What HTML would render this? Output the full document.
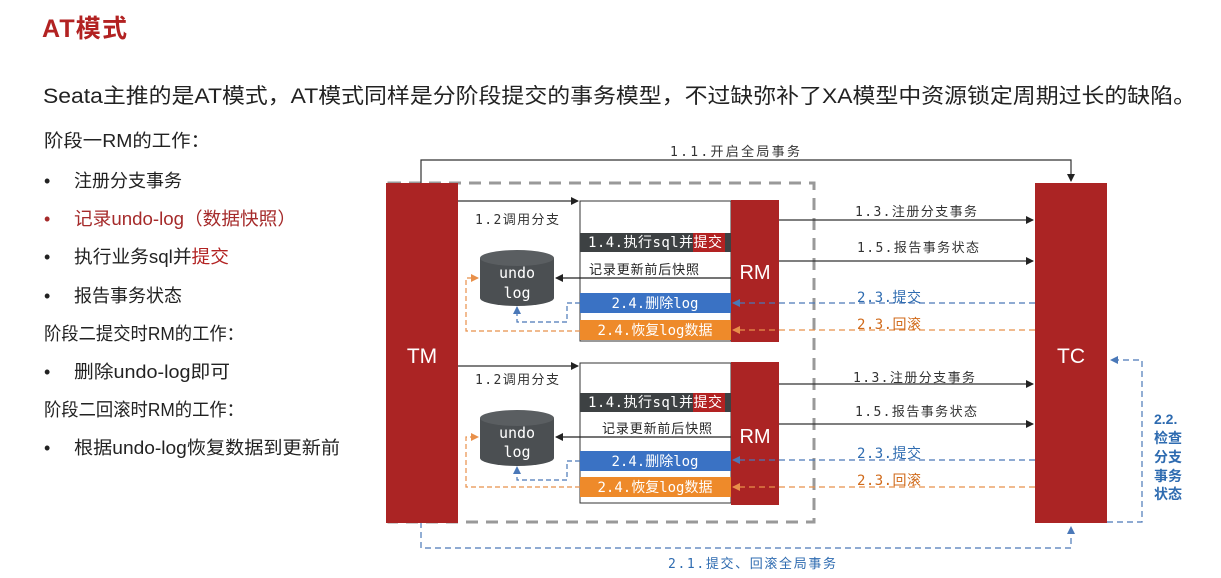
<!DOCTYPE html>
<html><head><meta charset="utf-8"><style>
html,body{margin:0;padding:0;background:#fff;}
svg{display:block;}
text{font-family:"Liberation Sans","Noto Sans CJK SC",sans-serif;}
.m{font-family:"DejaVu Sans Mono","Liberation Mono","Noto Sans CJK SC",monospace;}
</style></head><body>
<svg width="1221" height="578" viewBox="0 0 1221 578" xmlns="http://www.w3.org/2000/svg">
<defs>
<marker id="ak" markerWidth="8" markerHeight="8" refX="7" refY="4" orient="auto" markerUnits="userSpaceOnUse"><path d="M0,0L8,4L0,8z" fill="#222"/></marker>
<marker id="ab" markerWidth="8" markerHeight="8" refX="7" refY="4" orient="auto" markerUnits="userSpaceOnUse"><path d="M0,0L8,4L0,8z" fill="#4a78b8"/></marker>
<marker id="ao" markerWidth="8" markerHeight="8" refX="7" refY="4" orient="auto" markerUnits="userSpaceOnUse"><path d="M0,0L8,4L0,8z" fill="#e8904a"/></marker>
</defs>
<text x="42" y="37" font-size="25" font-weight="bold" fill="#b22222" textLength="85">AT模式</text>
<text x="43" y="103" font-size="21" fill="#222" textLength="1153" lengthAdjust="spacingAndGlyphs">Seata主推的是AT模式，AT模式同样是分阶段提交的事务模型，不过缺弥补了XA模型中资源锁定周期过长的缺陷。</text>
<g font-size="18" fill="#222">
<text x="44" y="147" textLength="166" lengthAdjust="spacingAndGlyphs">阶段一RM的工作：</text>
<text x="44" y="187">•</text><text x="74" y="187">注册分支事务</text>
<text x="44" y="225" fill="#a52a2a">•</text><text x="74" y="225" fill="#a52a2a" textLength="222" lengthAdjust="spacingAndGlyphs">记录undo-log（数据快照）</text>
<text x="44" y="263">•</text><text x="74" y="263" textLength="155" lengthAdjust="spacingAndGlyphs">执行业务sql并<tspan fill="#b22222">提交</tspan></text>
<text x="44" y="302">•</text><text x="74" y="302">报告事务状态</text>
<text x="44" y="340" textLength="200" lengthAdjust="spacingAndGlyphs">阶段二提交时RM的工作：</text>
<text x="44" y="378">•</text><text x="74" y="378" textLength="156" lengthAdjust="spacingAndGlyphs">删除undo-log即可</text>
<text x="44" y="416" textLength="200" lengthAdjust="spacingAndGlyphs">阶段二回滚时RM的工作：</text>
<text x="44" y="454">•</text><text x="74" y="454" textLength="266" lengthAdjust="spacingAndGlyphs">根据undo-log恢复数据到更新前</text>
</g>
<rect x="389" y="183" width="425" height="339" fill="none" stroke="#999" stroke-width="3" stroke-dasharray="12,8"/>
<path d="M421,183V160H1071V181" fill="none" stroke="#333" stroke-width="1.2" marker-end="url(#ak)"/>
<text x="670" y="156" font-size="13" fill="#333" class="m" textLength="130">1.1.开启全局事务</text>
<path d="M421,522V548H1071V527" fill="none" stroke="#4a78b8" stroke-width="1.2" stroke-dasharray="6,4" marker-end="url(#ab)"/>
<text x="668" y="568" font-size="13" fill="#2e6bb0" class="m" textLength="168">2.1.提交、回滚全局事务</text>
<path d="M1107,522H1142V360H1111" fill="none" stroke="#4a78b8" stroke-width="1.2" stroke-dasharray="6,4" marker-end="url(#ab)"/>
<g font-size="14" fill="#2e6bb0" font-weight="bold"><text x="1154" y="424">2.2.</text><text x="1154" y="443">检查</text><text x="1154" y="462">分支</text><text x="1154" y="481">事务</text><text x="1154" y="499">状态</text></g>
<rect x="386" y="183" width="72" height="340" fill="#ab2424"/>
<text x="422" y="363" font-size="21" fill="#fff" text-anchor="middle">TM</text>
<rect x="1035" y="183" width="72" height="340" fill="#ab2424"/>
<text x="1071" y="363" font-size="21" fill="#fff" text-anchor="middle">TC</text>

<g>
<path d="M458,201H578" stroke="#333" stroke-width="1.2" marker-end="url(#ak)"/>
<text x="475" y="224" font-size="13" fill="#333" class="m" textLength="84">1.2调用分支</text>
<rect x="580" y="201" width="151" height="140" fill="#fff" stroke="#333" stroke-width="1"/>
<rect x="580" y="233" width="151" height="19" fill="#3d4143"/>
<rect x="693" y="233" width="32" height="19" fill="#b22222"/>
<text x="588" y="247" font-size="14" fill="#fff" class="m" textLength="134">1.4.执行sql并提交</text>
<text x="589" y="274" font-size="13" fill="#222" textLength="110">记录更新前后快照</text>
<path d="M731,278H556" stroke="#222" stroke-width="1.2" marker-end="url(#ak)"/>
<rect x="580" y="293" width="151" height="20" fill="#3a72c4"/>
<text x="655" y="308" font-size="14" fill="#fff" text-anchor="middle" class="m">2.4.删除log</text>
<rect x="580" y="320" width="151" height="20" fill="#ee8a2a"/>
<text x="655" y="335" font-size="14" fill="#fff" text-anchor="middle" class="m">2.4.恢复log数据</text>
<path d="M480,258V298A37,8 0 0 0 554,298V258" fill="#4b4f52"/>
<ellipse cx="517" cy="258" rx="37" ry="8" fill="#5a5e61"/>
<text x="517" y="278" font-size="15" fill="#fff" text-anchor="middle" class="m">undo</text>
<text x="517" y="298" font-size="15" fill="#fff" text-anchor="middle" class="m">log</text>
<path d="M580,303H567V322H517V307" fill="none" stroke="#4a78b8" stroke-width="1.2" stroke-dasharray="5,3" marker-end="url(#ab)"/>
<path d="M580,331H466V278H478" fill="none" stroke="#e8904a" stroke-width="1.2" stroke-dasharray="5,3" marker-end="url(#ao)"/>
<rect x="731" y="200" width="48" height="142" fill="#ab2424"/>
<text x="755" y="279" font-size="20" fill="#fff" text-anchor="middle">RM</text>
<path d="M779,220H1033" stroke="#333" stroke-width="1.2" marker-end="url(#ak)"/>
<text x="855" y="216" font-size="13" fill="#333" class="m" textLength="122">1.3.注册分支事务</text>
<path d="M779,261H1033" stroke="#333" stroke-width="1.2" marker-end="url(#ak)"/>
<text x="857" y="252" font-size="13" fill="#333" class="m" textLength="122">1.5.报告事务状态</text>
<path d="M1035,303H733" stroke="#4a78b8" stroke-width="1.2" stroke-dasharray="6,4" marker-end="url(#ab)"/>
<text x="857" y="302" font-size="14" fill="#2e6bb0" class="m" textLength="64">2.3.提交</text>
<path d="M1035,330H733" stroke="#e8904a" stroke-width="1.2" stroke-dasharray="6,4" marker-end="url(#ao)"/>
<text x="857" y="329" font-size="14" fill="#d06a1a" class="m" textLength="64">2.3.回滚</text>
</g>
<g transform="translate(0,162)">
<path d="M458,204H578" stroke="#333" stroke-width="1.2" marker-end="url(#ak)"/>
<text x="475" y="222" font-size="13" fill="#333" class="m" textLength="84">1.2调用分支</text>
<rect x="580" y="201" width="151" height="140" fill="#fff" stroke="#333" stroke-width="1"/>
<rect x="580" y="231" width="151" height="19" fill="#3d4143"/>
<rect x="693" y="231" width="32" height="19" fill="#b22222"/>
<text x="588" y="245" font-size="14" fill="#fff" class="m" textLength="134">1.4.执行sql并提交</text>
<text x="602" y="271" font-size="13" fill="#222" textLength="110">记录更新前后快照</text>
<path d="M731,275H556" stroke="#222" stroke-width="1.2" marker-end="url(#ak)"/>
<rect x="580" y="289" width="151" height="20" fill="#3a72c4"/>
<text x="655" y="304" font-size="14" fill="#fff" text-anchor="middle" class="m">2.4.删除log</text>
<rect x="580" y="315" width="151" height="20" fill="#ee8a2a"/>
<text x="655" y="330" font-size="14" fill="#fff" text-anchor="middle" class="m">2.4.恢复log数据</text>
<path d="M480,256V296A37,8 0 0 0 554,296V256" fill="#4b4f52"/>
<ellipse cx="517" cy="256" rx="37" ry="8" fill="#5a5e61"/>
<text x="517" y="276" font-size="15" fill="#fff" text-anchor="middle" class="m">undo</text>
<text x="517" y="295" font-size="15" fill="#fff" text-anchor="middle" class="m">log</text>
<path d="M580,299H567V318H517V305" fill="none" stroke="#4a78b8" stroke-width="1.2" stroke-dasharray="5,3" marker-end="url(#ab)"/>
<path d="M580,325H466V275H478" fill="none" stroke="#e8904a" stroke-width="1.2" stroke-dasharray="5,3" marker-end="url(#ao)"/>
<rect x="731" y="200" width="48" height="143" fill="#ab2424"/>
<text x="755" y="281" font-size="20" fill="#fff" text-anchor="middle">RM</text>
<path d="M779,222H1033" stroke="#333" stroke-width="1.2" marker-end="url(#ak)"/>
<text x="853" y="220" font-size="13" fill="#333" class="m" textLength="122">1.3.注册分支事务</text>
<path d="M779,262H1033" stroke="#333" stroke-width="1.2" marker-end="url(#ak)"/>
<text x="855" y="254" font-size="13" fill="#333" class="m" textLength="122">1.5.报告事务状态</text>
<path d="M1035,298H733" stroke="#4a78b8" stroke-width="1.2" stroke-dasharray="6,4" marker-end="url(#ab)"/>
<text x="857" y="296" font-size="14" fill="#2e6bb0" class="m" textLength="64">2.3.提交</text>
<path d="M1035,325H733" stroke="#e8904a" stroke-width="1.2" stroke-dasharray="6,4" marker-end="url(#ao)"/>
<text x="857" y="323" font-size="14" fill="#d06a1a" class="m" textLength="64">2.3.回滚</text>
</g>
</svg>
</body></html>
